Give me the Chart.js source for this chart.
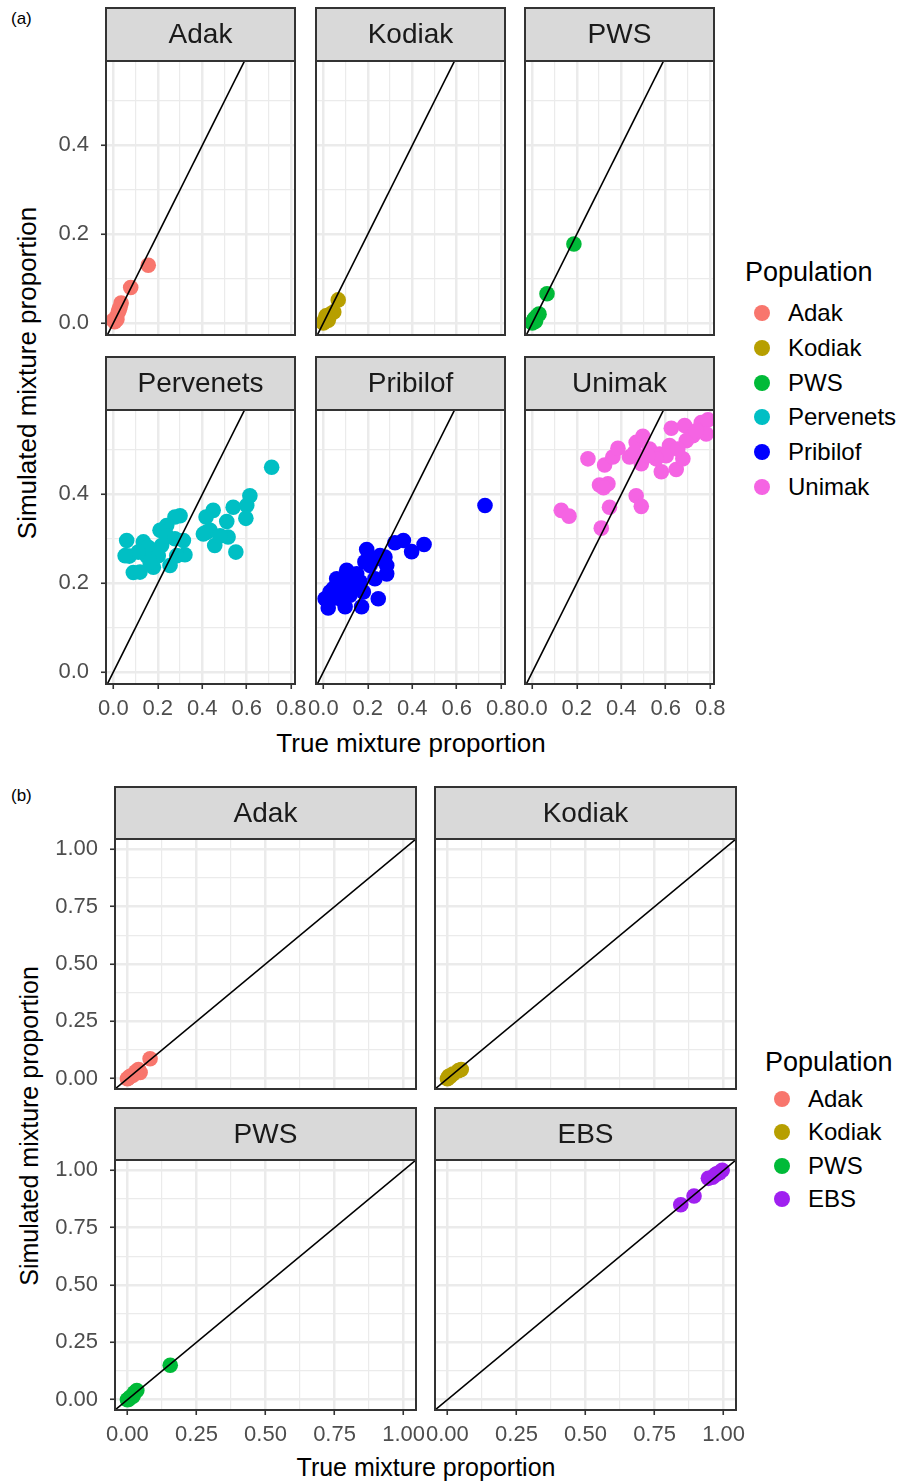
<!DOCTYPE html>
<html>
<head>
<meta charset="utf-8">
<script src="https://cdn.jsdelivr.net/npm/chart.js@4.4.1/dist/chart.umd.min.js"></script>
<style>
  body { margin: 0; background: #fff; width: 911px; height: 1482px; position: relative; overflow: hidden;
         font-family: "Liberation Sans", Arial, Helvetica, sans-serif; }
  canvas { position: absolute; }
  .txt { position: absolute; white-space: nowrap; color: #000; line-height: 1; }
  .key { position: absolute; width: 16px; height: 16px; border-radius: 50%; }
</style>
</head>
<body>
<div class="txt" style="left:11px;top:10px;font-size:17px;">(a)</div>
<div class="txt" style="left:11px;top:787px;font-size:17px;">(b)</div>

<div class="txt" style="left:27px;top:373px;font-size:26px;transform:translate(-50%,-50%) rotate(-90deg);">Simulated mixture proportion</div>
<div class="txt" style="left:411px;top:743px;font-size:26px;transform:translate(-50%,-50%);">True mixture proportion</div>
<div class="txt" style="left:29px;top:1126px;font-size:25px;transform:translate(-50%,-50%) rotate(-90deg);">Simulated mixture proportion</div>
<div class="txt" style="left:426px;top:1467px;font-size:25px;transform:translate(-50%,-50%);">True mixture proportion</div>

<div id="legA"></div>
<div id="legB"></div>

<script>
// (a) points as [true, simulated]
const adakA = [[0.157,0.13],[0.078,0.08],[0.035,0.045],[0.03,0.035],[0.022,0.024],[0.012,0.012],[0.006,0.003],[0.0,0.006],[0.016,0.008],[0.026,0.03]];
const kodiakA = [[0.067,0.052],[0.047,0.025],[0.032,0.02],[0.012,0.016],[0.005,0.006],[0.0,0.0],[0.016,0.01],[0.022,0.006]];
const pwsA = [[0.187,0.178],[0.066,0.066],[0.03,0.02],[0.02,0.015],[0.01,0.01],[0.0,0.0],[0.005,0.005],[0.014,0.004]];
const pervenetsA = [[0.712,0.461],[0.614,0.397],[0.600,0.375],[0.596,0.346],[0.539,0.371],[0.510,0.339],[0.551,0.270],
  [0.516,0.304],[0.456,0.285],[0.449,0.364],[0.417,0.349],[0.420,0.315],[0.435,0.319],[0.480,0.307],[0.300,0.352],
  [0.277,0.349],[0.240,0.330],[0.210,0.319],[0.315,0.296],[0.322,0.264],[0.255,0.240],[0.060,0.296],[0.072,0.261],
  [0.090,0.224],[0.120,0.225],[0.135,0.293],[0.157,0.281],[0.150,0.262],[0.180,0.236],[0.202,0.262],[0.217,0.285],
  [0.240,0.307],[0.277,0.300],[0.165,0.248],[0.112,0.270],[0.405,0.311],[0.285,0.262],[0.053,0.262]];
const pribilofA = [[0.727,0.375],[0.453,0.287],[0.397,0.271],[0.360,0.296],[0.322,0.291],[0.195,0.276],[0.255,0.262],
  [0.277,0.259],[0.285,0.240],[0.285,0.221],[0.232,0.210],[0.247,0.165],[0.172,0.147],[0.098,0.147],[0.022,0.144],
  [0.008,0.165],[0.060,0.210],[0.105,0.229],[0.150,0.221],[0.045,0.188],[0.090,0.195],[0.135,0.195],[0.180,0.180],
  [0.120,0.173],[0.075,0.165],[0.210,0.240],[0.187,0.248],[0.240,0.255],[0.038,0.165],[0.165,0.203],[0.120,0.206],
  [0.030,0.180]];
const unimakA = [[0.130,0.364],[0.165,0.351],[0.250,0.480],[0.310,0.324],[0.347,0.371],[0.302,0.421],[0.340,0.424],
  [0.325,0.466],[0.362,0.484],[0.385,0.504],[0.467,0.397],[0.490,0.373],[0.437,0.484],[0.467,0.517],[0.497,0.531],
  [0.490,0.469],[0.527,0.502],[0.572,0.491],[0.580,0.451],[0.647,0.456],[0.677,0.480],[0.625,0.549],[0.685,0.555],
  [0.760,0.562],[0.790,0.568],[0.782,0.536],[0.722,0.532],[0.617,0.510],[0.602,0.487],[0.692,0.521],[0.557,0.480],
  [0.520,0.487],[0.460,0.495],[0.654,0.502],[0.737,0.543],[0.320,0.415]];

// (b) points
const adakB = [[0.082,0.087],[0.046,0.027],[0.04,0.04],[0.03,0.03],[0.02,0.015],[0.01,0.01],[0.0,0.0],[0.005,0.005]];
const kodiakB = [[0.05,0.04],[0.04,0.035],[0.02,0.02],[0.01,0.01],[0.0,0.0],[0.005,0.01]];
const pwsB = [[0.155,0.15],[0.034,0.04],[0.025,0.03],[0.02,0.015],[0.01,0.01],[0.0,0.0],[0.005,0.002]];
const ebsB = [[0.845,0.85],[0.893,0.888],[0.945,0.965],[0.96,0.97],[0.975,0.985],[0.985,0.99],[0.995,1.0],[0.97,0.98]];

// ticks
const majorXA = [0, 0.2, 0.4, 0.6, 0.8];
const minorXA = [0.1, 0.3, 0.5, 0.7];
const majorYA = [0, 0.2, 0.4];
const minorYA = [0.1, 0.3, 0.5];
const majorB = [0, 0.25, 0.5, 0.75, 1];
const minorB = [0.125, 0.375, 0.625, 0.875];

const colors = { Adak: '#F8766D', Kodiak: '#B79F00', PWS: '#00BA38', Pervenets: '#00BFC4',
                 Pribilof: '#0000FF', Unimak: '#F564E3', EBS: '#A020F0' };
const legendA = ['Adak', 'Kodiak', 'PWS', 'Pervenets', 'Pribilof', 'Unimak'];
const legendB = ['Adak', 'Kodiak', 'PWS', 'EBS'];

const FONT = '"Liberation Sans", Arial, Helvetica, sans-serif';
Chart.defaults.font.family = FONT;

const isIn = (arr, v) => arr.some(m => Math.abs(m - v) < 1e-9);

const stripPlugin = {
  id: 'strip',
  afterDraw(chart, args, opts) {
    const { ctx, chartArea: a } = chart;
    ctx.save();
    ctx.fillStyle = '#D9D9D9';
    ctx.fillRect(a.left, 1, a.right - a.left, a.top - 1);
    ctx.strokeStyle = '#333333';
    ctx.lineWidth = 2;
    ctx.strokeRect(a.left, 1, a.right - a.left, a.top - 1);
    ctx.strokeRect(a.left, a.top, a.right - a.left, a.bottom - a.top);
    ctx.fillStyle = '#1A1A1A';
    ctx.font = '28px ' + FONT;
    ctx.textAlign = 'center';
    ctx.textBaseline = 'middle';
    ctx.fillText(opts.label, (a.left + a.right) / 2, (a.top + 1) / 2 + 1);
    ctx.restore();
  }
};

function makePanel(p) {
  const padL = p.yAxis ? p.axisW : 30, padR = 30;
  const padB = p.xAxis ? 42 : 34;
  const cv = document.createElement('canvas');
  cv.width = padL + p.w + padR;
  cv.height = p.stripH + p.h + padB;
  cv.style.left = (p.left - padL) + 'px';
  cv.style.top = p.stripTop + 'px';
  document.body.appendChild(cv);

  const lo = Math.min(p.xr[0], p.yr[0]), hi = Math.max(p.xr[1], p.yr[1]);
  const axis = (major, minor, range, isX, show, fmt) => ({
    type: 'linear', min: range[0], max: range[1],
    afterBuildTicks: s => { s.ticks = major.concat(minor).sort((a, b) => a - b).map(v => ({ value: v })); },
    afterFit: s => { if (isX) s.height = show ? padB : 0; else s.width = show ? padL : 0; },
    ticks: { display: show, autoSkip: false, maxRotation: 0, minRotation: 0, padding: isX ? 7 : 12,
             color: '#4D4D4D', font: { size: 22 },
             callback: v => isIn(major, v) ? fmt(v) : '' },
    grid: { color: '#EBEBEB', lineWidth: c => isIn(major, c.tick.value) ? 2.5 : 1.2,
            drawTicks: show, tickLength: 5, tickWidth: 1.6,
            tickColor: c => isIn(major, c.tick.value) ? '#333333' : 'rgba(0,0,0,0)' },
    border: { display: false }
  });

  new Chart(cv, {
    type: 'scatter',
    data: {
      datasets: [
        { type: 'line', data: [{ x: lo, y: lo }, { x: hi, y: hi }], borderColor: '#000', borderWidth: 1.6,
          pointRadius: 0, order: 0 },
        { data: p.data.map(d => ({ x: d[0], y: d[1] })), backgroundColor: colors[p.name],
          borderWidth: 0, pointRadius: 7.8, pointHoverRadius: 7.8, order: 1 }
      ]
    },
    options: {
      responsive: false, animation: false, devicePixelRatio: 1,
      events: [],
      layout: { autoPadding: false,
                padding: { left: p.yAxis ? 0 : padL, right: padR, top: p.stripH, bottom: p.xAxis ? 0 : padB } },
      plugins: { legend: { display: false }, tooltip: { enabled: false }, strip: { label: p.name } },
      scales: {
        x: axis(p.majorX, p.minorX, p.xr, true, p.xAxis, p.fmt),
        y: axis(p.majorY, p.minorY, p.yr, false, p.yAxis, p.fmt)
      }
    },
    plugins: [stripPlugin]
  });
}

// (a) facets
const xrA = [-0.033, 0.817], yrA = [-0.027, 0.59];
const fmtA = v => v.toFixed(1);
const colA = [106, 316, 525];
const rowA = [7, 356];
[['Adak', adakA], ['Kodiak', kodiakA], ['PWS', pwsA], ['Pervenets', pervenetsA], ['Pribilof', pribilofA], ['Unimak', unimakA]]
  .forEach((f, i) => {
    const c = i % 3, r = Math.floor(i / 3);
    makePanel({ name: f[0], data: f[1], left: colA[c], w: 189, stripTop: rowA[r], stripH: 54, h: 274,
                yAxis: c === 0, xAxis: r === 1, axisW: 50, xr: xrA, yr: yrA,
                majorX: majorXA, minorX: minorXA, majorY: majorYA, minorY: minorYA, fmt: fmtA });
  });

// (b) facets
const rB = [-0.045, 1.045];
const fmtB = v => v.toFixed(2);
const colB = [115, 435];
const rowB = [786, 1107];
[['Adak', adakB], ['Kodiak', kodiakB], ['PWS', pwsB], ['EBS', ebsB]].forEach((f, i) => {
  const c = i % 2, r = Math.floor(i / 2);
  makePanel({ name: f[0], data: f[1], left: colB[c], w: 301, stripTop: rowB[r], stripH: 53, h: 250,
              yAxis: c === 0, xAxis: r === 1, axisW: 60, xr: rB, yr: rB,
              majorX: majorB, minorX: minorB, majorY: majorB, minorY: minorB, fmt: fmtB });
});

// legends
function legend(el, names, x, titleY, firstY, step) {
  let html = `<div class="txt" style="left:${x}px;top:${titleY}px;font-size:27px;transform:translateY(-50%);">Population</div>`;
  names.forEach((n, i) => {
    const cy = firstY + i * step;
    html += `<div class="key" style="left:${x + 9}px;top:${cy - 8}px;background:${colors[n]};"></div>`;
    html += `<div class="txt" style="left:${x + 43}px;top:${cy}px;font-size:24px;transform:translateY(-50%);">${n}</div>`;
  });
  document.getElementById(el).innerHTML = html;
}
legend('legA', legendA, 745, 272, 313, 34.8);
legend('legB', legendB, 765, 1062, 1099, 33.3);
</script>
</body>
</html>
